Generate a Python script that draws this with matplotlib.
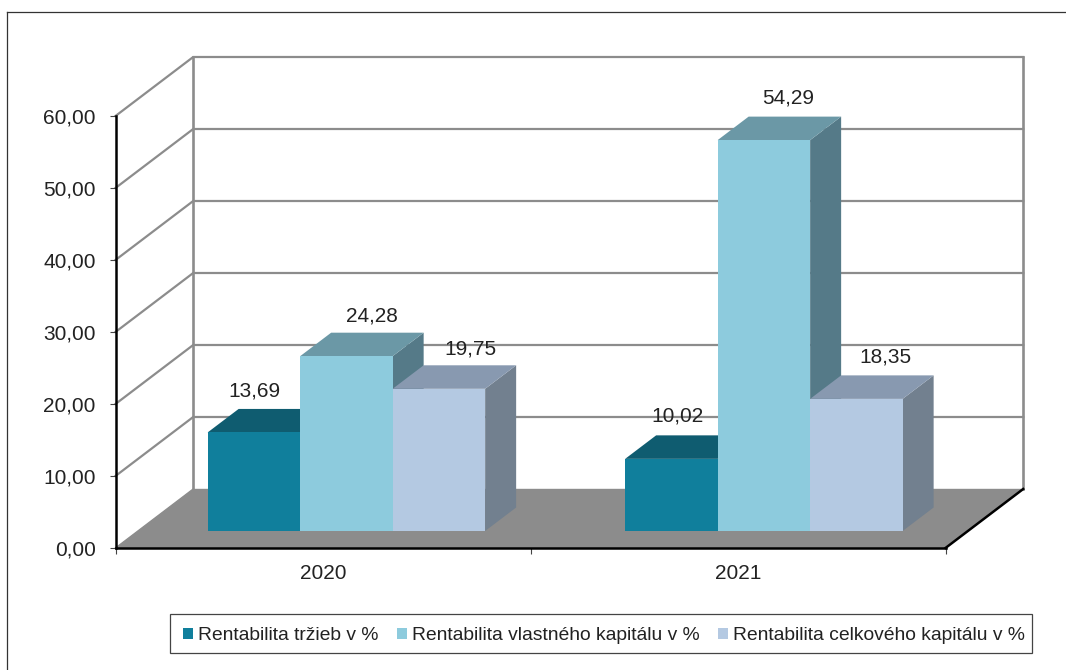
import matplotlib
matplotlib.use("Agg")
import matplotlib.pyplot as plt
from matplotlib.patches import Polygon, Patch, Rectangle
from matplotlib.lines import Line2D

categories = ["2020", "2021"]
series_names = ["Rentabilita tržieb v %", "Rentabilita vlastného kapitálu v %", "Rentabilita celkového kapitálu v %"]
tržby = [13.69, 10.02]
vlastny = [24.28, 54.29]
celkovy = [19.75, 18.35]
series_values = [tržby, vlastny, celkovy]
value_labels = [["13,69", "10,02"], ["24,28", "54,29"], ["19,75", "18,35"]]
y_ticks = [0, 10, 20, 30, 40, 50, 60]
y_tick_labels = ["0,00", "10,00", "20,00", "30,00", "40,00", "50,00", "60,00"]

front_colors = ["#107F9C", "#8DCBDD", "#B4C9E2"]
top_colors = ["#0F5C70", "#6B98A6", "#8899B0"]
side_colors = ["#0D5A6E", "#557A88", "#72808F"]
GRID = "#8C8C8C"
TXT = "#222222"
W, H = 1066, 670

plt.rcParams["font.family"] = ["Liberation Sans", "DejaVu Sans"]
fig = plt.figure(figsize=(W / 100, H / 100), dpi=100)
L, R, B, T = 115.5, 945.5, 548, 116
ax = fig.add_axes([L / W, (H - B) / H, (R - L) / W, (B - T) / H])
ax.set_xlim(0, 2)
ax.set_ylim(0, 60)
ax.patch.set_alpha(0)

# pixel -> data-unit scales
ux = 2 / (R - L)
uy = 60 / (B - T)
DX, DY = 77.7 * ux, 59 * uy        # wall depth
BX, BY = 31 * ux, 23.5 * uy        # bar depth
SX, SY = 23.4 * ux, 17 * uy        # bar front inset from the front plane
BW = 92.5 * ux
group_pos = [0.5, 1.506]

def poly(pts, color, z, **kw):
    ax.add_patch(Polygon(pts, closed=True, facecolor=color, edgecolor="none",
                         zorder=z, clip_on=False, **kw))

# floor
poly([(0, 0), (2, 0), (2 + DX, DY), (DX, DY)], GRID, 1)

# walls and gridlines
lw = 1.6
for v in y_ticks:
    if v > 0:
        ax.plot([0, DX, 2 + DX], [v, v + DY, v + DY], color=GRID, lw=lw, clip_on=False, zorder=0.5,
                solid_joinstyle="miter")
ax.plot([DX, DX], [DY, 60 + DY], color=GRID, lw=lw + 0.3, clip_on=False, zorder=0.5)
ax.plot([2 + DX, 2 + DX], [DY, 60 + DY], color=GRID, lw=lw + 0.3, clip_on=False, zorder=0.5)
ax.plot([0, DX], [0, DY], color=GRID, lw=1, clip_on=False, zorder=0.6)
ax.plot([DX, 2 + DX], [DY, DY], color=GRID, lw=1, clip_on=False, zorder=0.6)
ax.plot([2, 2 + DX], [0, DY], color="black", lw=1.8, clip_on=False, zorder=1.5)

# 3-D bars
z = 2
for g, gx in enumerate(group_pos):
    for s, vals in enumerate(series_values):
        v = vals[g]
        x0 = gx + SX + (s - 1.5) * BW
        y0 = SY
        ytop = y0 + v
        poly([(x0 + BW, y0), (x0 + BW + BX, y0 + BY), (x0 + BW + BX, ytop + BY), (x0 + BW, ytop)],
             side_colors[s], z)
        poly([(x0, ytop), (x0 + BW, ytop), (x0 + BW + BX, ytop + BY), (x0 + BX, ytop + BY)],
             top_colors[s], z)
        ax.bar(x0, v, width=BW, bottom=y0, align="edge", color=front_colors[s], zorder=z + 0.1,
               clip_on=False)
        z += 0.2

# data labels
offsets = [[(1, 41), (6, 43)], [(26, 40), (24.5, 42)], [(32, 40), (29.5, 42)]]
for s, vals in enumerate(series_values):
    for g, gx in enumerate(group_pos):
        x0 = gx + SX + (s - 1.5) * BW
        ox, oy = offsets[s][g]
        ax.annotate(value_labels[s][g], (x0 + BW / 2, SY + vals[g]),
                    xytext=(ox * 0.72, oy * 0.72), textcoords="offset points",
                    ha="center", va="center", fontsize=15, color=TXT, zorder=20,
                    annotation_clip=False)

# axes
for name in ("top", "right"):
    ax.spines[name].set_visible(False)
for name in ("left", "bottom"):
    ax.spines[name].set_linewidth(1.8)
    ax.spines[name].set_color("black")
    ax.spines[name].set_zorder(15)
ax.set_yticks(y_ticks)
ax.set_yticklabels(y_tick_labels, fontsize=15, color=TXT)
ax.tick_params(axis="y", length=4.3, width=0.8, pad=10, color="#444444")
ax.set_xticks([0, 1, 2])
ax.set_xticklabels(["", "", ""])
ax.tick_params(axis="x", which="major", length=4, width=0.8, color="#444444")
ax.set_xticks([0.5, 1.5], minor=True)
ax.set_xticklabels(categories, minor=True, fontsize=15, color=TXT)
ax.tick_params(axis="x", which="minor", length=0, pad=11.5)

# outer border
for xs, ys in (([7, W], [11.5, 11.5]), ([7, 7], [11.5, H])):
    fig.add_artist(Line2D([x / W for x in xs], [1 - y / H for y in ys], color="#333333", lw=0.9))

# legend
fig.add_artist(Rectangle((169.5 / W, 1 - 653 / H), (1032 - 169.5) / W, 39 / H, transform=fig.transFigure,
                         facecolor="white", edgecolor="#444444", lw=0.9))
handles = [Patch(facecolor=c, edgecolor="none") for c in front_colors]
leg = fig.legend(handles, series_names, loc="center", bbox_to_anchor=(604 / W, 1 - 635.5 / H),
                 ncol=3, frameon=False, fontsize=13.85, handlelength=0.52, handleheight=0.52,
                 handletextpad=0.26, columnspacing=0.97, borderpad=0, labelcolor=TXT)
leg.set_zorder(30)

fig.savefig("out.png", dpi=100)
